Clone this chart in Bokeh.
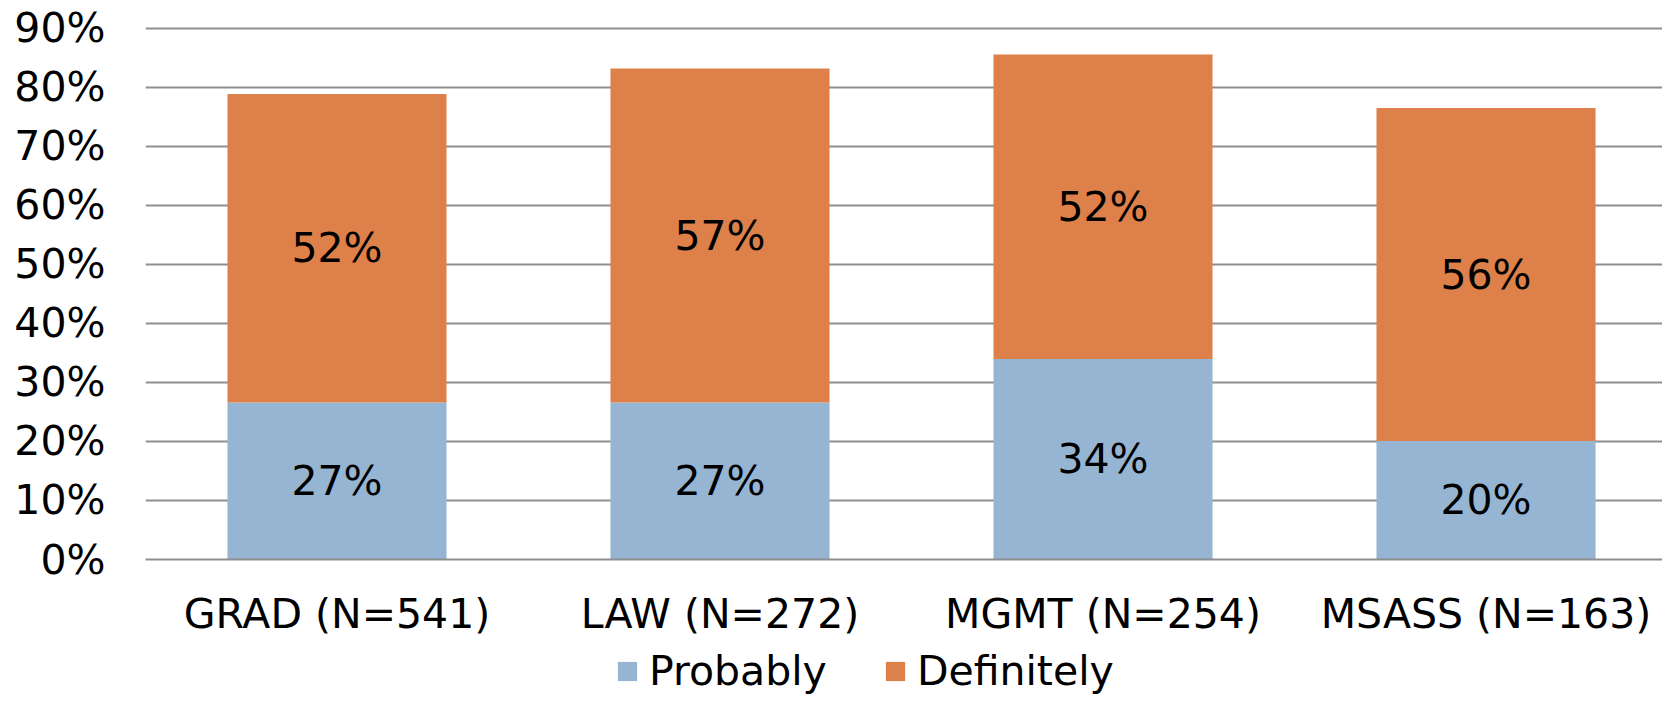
from bokeh.plotting import figure
from bokeh.layouts import column
from bokeh.models import (Range1d, Legend, LegendItem, ColumnDataSource,
                          FixedTicker, PrintfTickFormatter)
from bokeh.core.properties import value
from bokeh.embed import file_html
from bokeh.resources import INLINE

# ---- data (percent) ----
categories = ["GRAD (N=541)", "LAW (N=272)", "MGMT (N=254)", "MSASS (N=163)"]
probably = [26.6, 26.6, 34.0, 20.1]
definitely = [52.3, 56.6, 51.6, 56.4]
series_names = ["Probably", "Definitely"]
y_ticks = [0, 10, 20, 30, 40, 50, 60, 70, 80, 90]

FONT = "DejaVu Sans"
FS = "41px"
BLUE = "#95B5D3"
ORANGE = "#DE8049"
GRID = "#8e8e8e"
colors = [BLUE, ORANGE]

xpos = [i + 0.5 for i in range(len(categories))]
src = ColumnDataSource(dict(x=xpos, cat=categories, probably=probably, definitely=definitely))

W = 1662
p = figure(
    x_range=Range1d(0, 3.9608),
    y_range=Range1d(0, 90.5),
    width=W, height=640,
    output_backend="svg", toolbar_location=None,
    min_border_left=145, min_border_right=0, min_border_top=25, min_border_bottom=80,
)
p.outline_line_color = None
p.background_fill_color = "white"
p.border_fill_color = "white"

rs = p.vbar_stack(["probably", "definitely"], x="x", width=0.572, source=src,
                  color=colors, line_color=None)

# segment labels
prob_mid = [v / 2 for v in probably]
def_mid = [a + b / 2 for a, b in zip(probably, definitely)]
prob_lbl = [f"{round(v)}%" for v in probably]
def_lbl = [f"{round(v)}%" for v in definitely]
for mids, lbls in ((prob_mid, prob_lbl), (def_mid, def_lbl)):
    p.text(x=xpos, y=mids, text=lbls, text_align="center", text_baseline="middle",
           text_font=value(FONT), text_font_size=FS, text_color="black")

# axes
p.yaxis.ticker = FixedTicker(ticks=y_ticks)
p.yaxis.formatter = PrintfTickFormatter(format="%d%%")
p.yaxis.axis_line_color = None
p.yaxis.major_tick_line_color = None
p.yaxis.minor_tick_line_color = None
p.yaxis.major_label_standoff = 34
p.yaxis.major_label_text_font = FONT
p.yaxis.major_label_text_font_size = FS
p.yaxis.major_label_text_color = "black"

p.xaxis.ticker = FixedTicker(ticks=xpos)
p.xaxis.major_label_overrides = {x: c for x, c in zip(xpos, categories)}
p.xaxis.axis_line_color = GRID
p.xaxis.axis_line_width = 2
p.xaxis.major_tick_line_color = None
p.xaxis.minor_tick_line_color = None
p.xaxis.major_tick_out = 0
p.xaxis.major_label_standoff = 30
p.xaxis.major_label_text_font = FONT
p.xaxis.major_label_text_font_size = FS
p.xaxis.major_label_text_color = "black"

p.xgrid.grid_line_color = None
p.ygrid.ticker = FixedTicker(ticks=y_ticks)
p.ygrid.grid_line_color = GRID
p.ygrid.grid_line_width = 2

# legend strip below the chart
lf = figure(width=W, height=56, x_range=Range1d(0, 1), y_range=Range1d(0, 1),
            x_axis_type=None, y_axis_type=None,
            output_backend="svg", toolbar_location=None,
            min_border_left=0, min_border_right=0, min_border_top=0, min_border_bottom=0)
lf.outline_line_color = None
lf.xgrid.grid_line_color = None
lf.ygrid.grid_line_color = None
# zero-height placeholder glyphs that only provide the legend swatches
dummies = [lf.vbar(x=[0.5], top=[0], bottom=[0], width=0.0, color=c, line_color=None)
           for c in colors]

legend = Legend(
    items=[LegendItem(label=series_names[i], renderers=[dummies[i]]) for i in range(2)],
    orientation="horizontal", location=(470, 1),
    glyph_width=24, glyph_height=24, label_standoff=10, spacing=56,
    padding=0, margin=0, border_line_color=None, background_fill_alpha=0,
    label_text_font=FONT, label_text_font_size=FS, label_text_color="black",
)
lf.add_layout(legend)

layout = column(p, lf, spacing=0)
open("out.html", "w").write(file_html(layout, INLINE))
